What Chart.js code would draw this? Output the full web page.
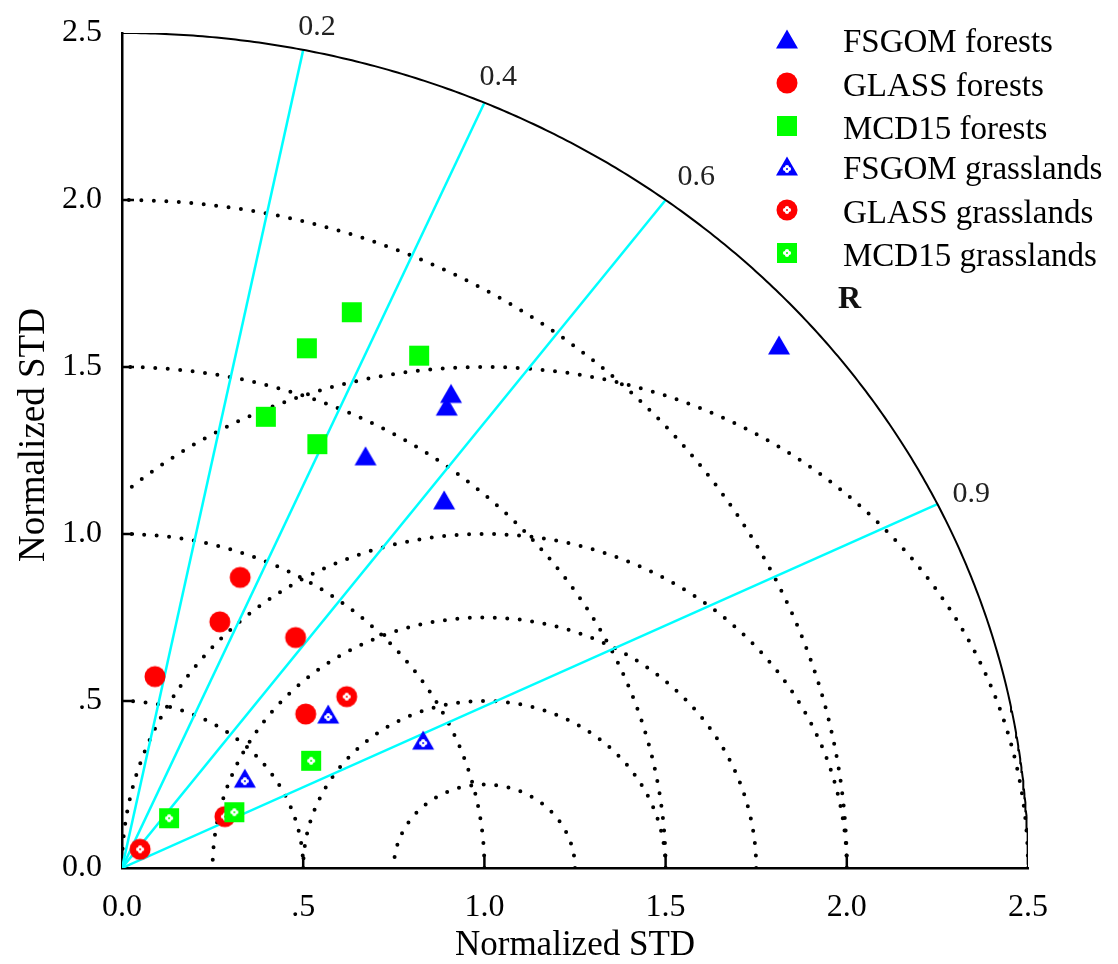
<!DOCTYPE html>
<html><head><meta charset="utf-8">
<script src="https://cdn.jsdelivr.net/npm/chart.js@4/dist/chart.umd.min.js"></script>
<style>html,body{margin:0;padding:0;background:#fff}canvas{display:block}</style>
</head><body>
<canvas id="c" width="1118" height="964"></canvas>
<script>
// ---------- data ----------
const seriesNames = ['FSGOM forests','GLASS forests','MCD15 forests','FSGOM grasslands','GLASS grasslands','MCD15 grasslands'];
const fsgomForestsX = [1.813, 0.908, 0.896, 0.672, 0.889];
const fsgomForestsY = [1.566, 1.421, 1.383, 1.234, 1.102];
const glassForestsX = [0.091, 0.326, 0.270, 0.479, 0.507];
const glassForestsY = [0.573, 0.870, 0.737, 0.690, 0.461];
const mcd15ForestsX = [0.634, 0.510, 0.820, 0.397, 0.539];
const mcd15ForestsY = [1.664, 1.556, 1.534, 1.351, 1.269];
const fsgomGrassX = [0.569, 0.339, 0.831];
const fsgomGrassY = [0.461, 0.269, 0.383];
const glassGrassX = [0.620, 0.284, 0.050];
const glassGrassY = [0.513, 0.154, 0.056];
const mcd15GrassX = [0.522, 0.310, 0.130];
const mcd15GrassY = [0.321, 0.167, 0.149];
const tickValues = [0, 0.5, 1.0, 1.5, 2.0, 2.5];
const tickLabels = ['0.0', '.5', '1.0', '1.5', '2.0', '2.5'];
const corrLevels = [0.2, 0.4, 0.6, 0.9];
const corrLabels = ['0.2', '0.4', '0.6', '0.9'];
const stdCircles = [0.5, 1.0, 1.5, 2.0];
const rmsCircles = [0.25, 0.5, 0.75, 1.0, 1.5];
const maxStd = 2.5;
const refStd = 1.0;
const axisTitle = 'Normalized STD';

// ---------- helpers ----------
const FONT = "'Liberation Serif', 'Times New Roman', serif";
function zip(xs, ys) { return xs.map((x, i) => ({x: x, y: ys[i]})); }
function arc(cx, r, n) {
  const pts = [];
  for (let i = 0; i <= n; i++) {
    const t = Math.PI * i / n;
    const x = cx + r * Math.cos(t), y = r * Math.sin(t);
    if (x >= -1e-9 && x * x + y * y <= maxStd * maxStd + 1e-9) pts.push({x: Math.max(x, 0), y: y});
  }
  return pts;
}
function marker(shape, color, hollow) {
  const c = document.createElement('canvas');
  c.width = c.height = 28;
  const g = c.getContext('2d');
  const m = 14;
  g.fillStyle = color;
  g.beginPath();
  if (shape === 'tri') { g.moveTo(m - 11, m + 9.5); g.lineTo(m + 11, m + 9.5); g.lineTo(m, m - 9.5); g.closePath(); }
  else if (shape === 'circ') { g.arc(m, m, 10.5, 0, 2 * Math.PI); }
  else { g.rect(m - 10, m - 10, 20, 20); }
  g.fill();
  if (hollow) {
    const cy = shape === 'tri' ? m + 3 : m;
    g.fillStyle = '#fff';
    [[2,0],[-2,0],[0,2],[0,-2]].forEach(d => { g.beginPath(); g.arc(m + d[0], cy + d[1], 2.1, 0, 2 * Math.PI); g.fill(); });
    g.fillStyle = color;
    g.beginPath(); g.arc(m, cy, 1, 0, 2 * Math.PI); g.fill();
  }
  return c;
}
const markers = [
  marker('tri', '#0000ff', false), marker('circ', '#ff0000', false), marker('sq', '#00ff00', false),
  marker('tri', '#0000ff', true), marker('circ', '#ff0000', true), marker('sq', '#00ff00', true)
];
const seriesData = [
  zip(fsgomForestsX, fsgomForestsY), zip(glassForestsX, glassForestsY), zip(mcd15ForestsX, mcd15ForestsY),
  zip(fsgomGrassX, fsgomGrassY), zip(glassGrassX, glassGrassY), zip(mcd15GrassX, mcd15GrassY)
];
const seriesOrder = [5, 4, 3, 2, 1, 0];

const datasets = [];
seriesNames.forEach((name, i) => {
  datasets.push({label: name, data: seriesData[i], pointStyle: markers[i], pointRadius: 11, order: seriesOrder[i], showLine: false});
});
// correlation rays
corrLevels.forEach(c => {
  datasets.push({label: 'r' + c, data: [{x: 0, y: 0}, {x: maxStd * c, y: maxStd * Math.sqrt(1 - c * c)}],
    showLine: true, borderColor: '#00ffff', borderWidth: 2.5, pointRadius: 0, order: 20});
});
const dotted = {showLine: true, borderColor: '#000', borderWidth: 4, borderDash: [0, 12.5], borderCapStyle: 'round', pointRadius: 0, order: 21, tension: 0};
stdCircles.forEach(r => datasets.push(Object.assign({label: 's' + r, data: arc(0, r, 400)}, dotted)));
rmsCircles.forEach(r => datasets.push(Object.assign({label: 'e' + r, data: arc(refStd, r, 600)}, dotted)));
// outer arc
datasets.push({label: 'outer', data: arc(0, maxStd, 600), showLine: true, borderColor: '#000', borderWidth: 2, pointRadius: 0, order: 19});

// ---------- overlay plugin ----------
const corrOffsets = [[-5, -15], [-5, -18], [12, -15], [15, -2]];
const legendRows = [39, 83, 126, 166, 210, 253];
const overlay = {
  id: 'overlay',
  afterDatasetsDraw(chart) {
    const {ctx, scales: {x, y}} = chart;
    ctx.save();
    // inner tick marks
    ctx.strokeStyle = '#000';
    ctx.lineWidth = 2.5;
    const x0 = x.getPixelForValue(0), y0 = y.getPixelForValue(0);
    tickValues.slice(1, -1).forEach(v => {
      const py = y.getPixelForValue(v);
      ctx.beginPath(); ctx.moveTo(x0, py); ctx.lineTo(x0 + 12, py); ctx.stroke();
      const px = x.getPixelForValue(v);
      ctx.beginPath(); ctx.moveTo(px, y0); ctx.lineTo(px, y0 - 11); ctx.stroke();
    });
    // correlation labels
    ctx.fillStyle = '#222';
    ctx.font = '30px ' + FONT;
    ctx.textAlign = 'left';
    ctx.textBaseline = 'alphabetic';
    corrLevels.forEach((c, i) => {
      const px = x.getPixelForValue(maxStd * c), py = y.getPixelForValue(maxStd * Math.sqrt(1 - c * c));
      ctx.fillText(corrLabels[i], px + corrOffsets[i][0], py + corrOffsets[i][1]);
    });
    // R label
    ctx.fillStyle = '#111';
    ctx.font = 'bold 32px ' + FONT;
    ctx.fillText('R', 838, 308);
    // legend
    ctx.fillStyle = '#000';
    ctx.font = '33px ' + FONT;
    seriesNames.forEach((name, i) => {
      const m = markers[i];
      ctx.drawImage(m, 787 - m.width / 2, legendRows[i] - m.height / 2);
      ctx.fillText(name, 843, legendRows[i] + 13);
    });
    // y axis title
    ctx.save();
    ctx.translate(44, 435);
    ctx.rotate(-Math.PI / 2);
    ctx.font = '37px ' + FONT;
    ctx.textAlign = 'center';
    ctx.textBaseline = 'alphabetic';
    ctx.fillStyle = '#000';
    ctx.fillText(axisTitle, 0, 0);
    ctx.restore();
    ctx.restore();
  }
};

const tickCb = v => { const i = tickValues.findIndex(t => Math.abs(t - v) < 1e-6); return i >= 0 ? tickLabels[i] : ''; };
const axisCommon = {
  type: 'linear', min: 0, max: maxStd,
  ticks: {stepSize: 0.5, callback: tickCb, font: {family: FONT, size: 32}, color: '#000', padding: 20, maxRotation: 0, autoSkip: false},
  grid: {display: true, drawOnChartArea: false, drawTicks: false, color: 'rgba(0,0,0,0)'},
  border: {display: true, color: '#000', width: 2.5}
};

new Chart(document.getElementById('c'), {
  type: 'scatter',
  data: {datasets: datasets},
  options: {
    responsive: false, animation: false, devicePixelRatio: 1,
    layout: {padding: {top: 33, right: 90, left: 0, bottom: 0}},
    plugins: {legend: {display: false}, tooltip: {enabled: false}},
    scales: {
      x: Object.assign({}, axisCommon, {
        position: 'bottom',
        title: {display: true, text: axisTitle, font: {family: FONT, size: 35, lineHeight: 1.05}, color: '#000', padding: {top: 0, bottom: 0}},
        afterFit: s => { s.height = 96; s.paddingLeft = 0; s.paddingRight = 0; }
      }),
      y: Object.assign({}, axisCommon, {
        position: 'left',
        title: {display: false},
        afterFit: s => { s.width = 122; s.paddingTop = 0; s.paddingBottom = 0; }
      })
    }
  },
  plugins: [overlay]
});
</script>
</body></html>
